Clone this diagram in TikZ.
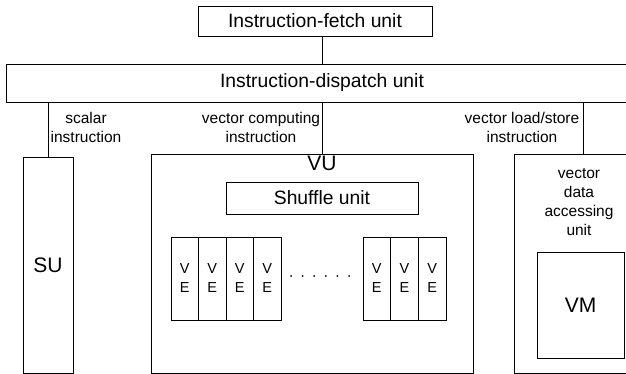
\documentclass[tikz,border=0pt]{standalone}
\usepackage{fontspec}
\setmainfont{Liberation Sans}
\begin{document}
\begin{tikzpicture}[x=1pt,y=-1pt,line width=0.8pt,
	box/.style={draw,rectangle,inner sep=0pt,font=\fontsize{19.3}{23}\selectfont},
	lbl/.style={align=center,inner sep=0pt,font=\fontsize{15.5}{19}\selectfont},
	ve/.style={draw,minimum width=27.6pt,minimum height=83pt,inner sep=0pt,align=center,font=\fontsize{14.5}{19}\selectfont}]
	\useasboundingbox (0,0) rectangle (626,374);
	\node[box,minimum width=234pt,minimum height=30pt] (fetch) at (315,21) {Instruction-fetch unit};
	\node[box,minimum width=632pt,minimum height=38pt] (dispatch) at (322,83) {Instruction-dispatch unit};
	\node[box,minimum width=50pt,minimum height=216pt,font=\fontsize{21}{25}\selectfont] (SU) at (48,265) {SU};
	\node[box,minimum width=322pt,minimum height=219pt] (VU) at (312,263.5) {};
	\node[box,minimum width=130pt,minimum height=219pt] (DA) at (579,263.5) {};
	\node[inner sep=0pt,font=\fontsize{21}{25}\selectfont] (vulbl) at (322,163) {VU};
	\node[box,minimum width=192pt,minimum height=32pt] (shuffle) at (322,198) {Shuffle unit};
	\foreach \i/\x in {1/184.75,2/212.25,3/239.75,4/267.25,5/376.8,6/404.5,7/432.2}
		\node[ve] (ve\i) at (\x,278.5) {V\\E};
	\foreach \x in {291,302.6,314.2,325.8,337.4,349}
		\fill (\x,276) circle (1pt);
	\node[lbl] (dalbl) at (579,202) {vector\\data\\accessing\\unit};
	\node[box,minimum width=87pt,minimum height=106pt,font=\fontsize{21}{25}\selectfont] (VM) at (580.5,305) {VM};
	% instruction paths
	\coordinate (vc) at (322,0);
	\coordinate (ls) at (583,0);
	\draw (fetch.south -| vc)--(dispatch.north -| vc);
	\draw (dispatch.south -| SU.north)--(SU.north);
	\draw (dispatch.south -| vc)--(VU.north -| vc);
	\draw (dispatch.south -| ls)--(DA.north -| ls);
	\node[lbl] (scal) at (86,127) {scalar\\instruction};
	\node[lbl] (vcomp) at (261,127) {vector computing\\instruction};
	\node[lbl] (vls) at (522,127) {vector load/store\\instruction};
\end{tikzpicture}
\end{document}
